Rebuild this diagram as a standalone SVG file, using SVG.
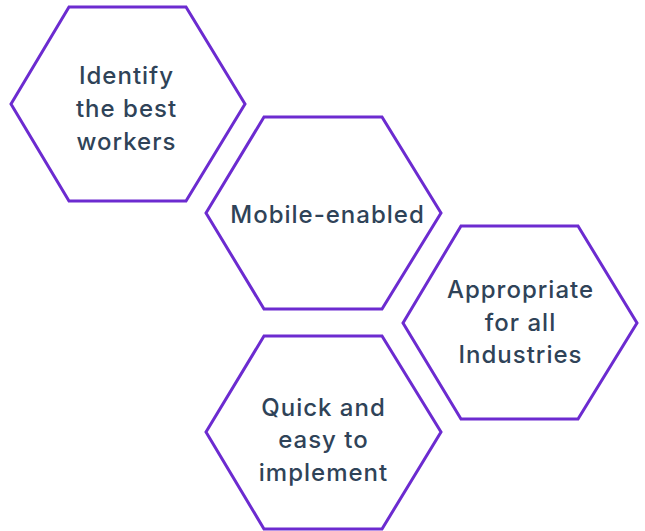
<svg xmlns="http://www.w3.org/2000/svg" width="645" height="531" viewBox="0 0 645 531">
<style>
.hex{fill:#ffffff;stroke:#6c2bd0;stroke-width:3;stroke-linejoin:miter}
.t{font-family:Inter,"Noto Sans","Liberation Sans",sans-serif;font-size:24px;font-weight:500;letter-spacing:1px;fill:#2f4358;text-anchor:middle}
</style>
<rect width="645" height="531" fill="#ffffff"/>
<g id="connectors"></g>
<g id="node1">
<polygon class="hex" points="11,104 69,7 186,7 245,104 186,201 69,201"/>
<text class="t" x="126.5" y="84">Identify</text>
<text class="t" x="126.5" y="117">the best</text>
<text class="t" x="126.5" y="150">workers</text>
</g>
<g id="node2">
<polygon class="hex" points="206,213 264,117 382,117 441,213 382,309 264,309"/>
<text class="t" x="327.5" y="223">Mobile-enabled</text>
</g>
<g id="node3">
<polygon class="hex" points="403,323 461,226 578,226 637,323 578,419 461,419"/>
<text class="t" x="520.5" y="298">Appropriate</text>
<text class="t" x="520.5" y="331">for all</text>
<text class="t" x="520.5" y="363">Industries</text>
</g>
<g id="node4">
<polygon class="hex" points="206,432 264,336 382,336 441,432 382,529 264,529"/>
<text class="t" x="323.5" y="416">Quick and</text>
<text class="t" x="323.5" y="448">easy to</text>
<text class="t" x="323.5" y="481">implement</text>
</g>
</svg>
